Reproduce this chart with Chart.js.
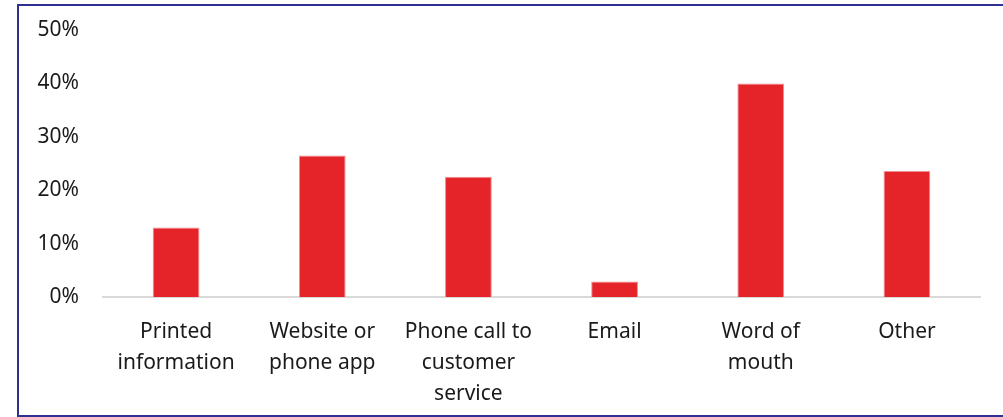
<!DOCTYPE html>
<html>
<head>
<meta charset="utf-8">
<title>Information sources</title>
<script src="https://cdn.jsdelivr.net/npm/chart.js@4/dist/chart.umd.min.js"></script>
<style>
  html, body { margin: 0; padding: 0; background: #fff; overflow: hidden; }
  .frame {
    position: absolute; left: 17px; top: 4px; width: 1100px; height: 409px;
    border-left: 2px solid #2e3192; border-top: 2px solid #2e3192; border-bottom: 2px solid #2e3192;
  }
  .wrap { position: absolute; left: 0; top: 0; width: 1003px; height: 417px; }
</style>
</head>
<body>
<div class="frame"></div>
<div class="wrap"><canvas id="sourceChart"></canvas></div>
<script>
// categories (multi-line labels) and share of respondents in %
const categories = [
    ['Printed', 'information'],
    ['Website or', 'phone app'],
    ['Phone call to', 'customer', 'service'],
    'Email',
    ['Word of', 'mouth'],
    'Other'
];
const shares = [13, 26.5, 22.5, 2.9, 40, 23.6];
const yTicks = [0, 10, 20, 30, 40, 50];

function initChart() {
    const ctx = document.getElementById('sourceChart').getContext('2d');
    new Chart(ctx, {
        type: 'bar',
        data: {
            labels: categories,
            datasets: [{
                data: shares,
                backgroundColor: '#e5242a',
                borderColor: '#ef8f91',
                borderWidth: 1,
                barPercentage: 0.32,
                categoryPercentage: 1
            }]
        },
        options: {
            responsive: true,
            maintainAspectRatio: false,
            animation: false,
            layout: { padding: { top: 30, right: 23, left: 0, bottom: 0 } },
            plugins: {
                legend: { display: false },
                tooltip: { enabled: false }
            },
            scales: {
                x: {
                    grid: { display: false },
                    border: { color: '#d9d9d9', width: 2 },
                    ticks: {
                        color: '#1a1a1a',
                        padding: 11,
                        maxRotation: 0,
                        autoSkip: false,
                        font: { family: 'Noto Sans', size: 21, lineHeight: 1.48 }
                    },
                    afterFit: function(scale) { scale.height = 120; }
                },
                y: {
                    min: 0,
                    max: 50,
                    grid: { display: false, drawTicks: false },
                    border: { display: false },
                    afterBuildTicks: function(scale) {
                        scale.ticks = yTicks.map(v => ({ value: v }));
                    },
                    ticks: {
                        color: '#1a1a1a',
                        padding: 24,
                        font: { family: 'Noto Sans', size: 21 },
                        callback: v => v + '%'
                    },
                    afterFit: function(scale) {
                        // fixed axis width; label padding should not push the plot down
                        scale.width = 103;
                        scale.paddingTop = 0;
                        scale.paddingBottom = 0;
                    }
                }
            }
        }
    });
}

document.addEventListener('DOMContentLoaded', initChart);
</script>
</body>
</html>
